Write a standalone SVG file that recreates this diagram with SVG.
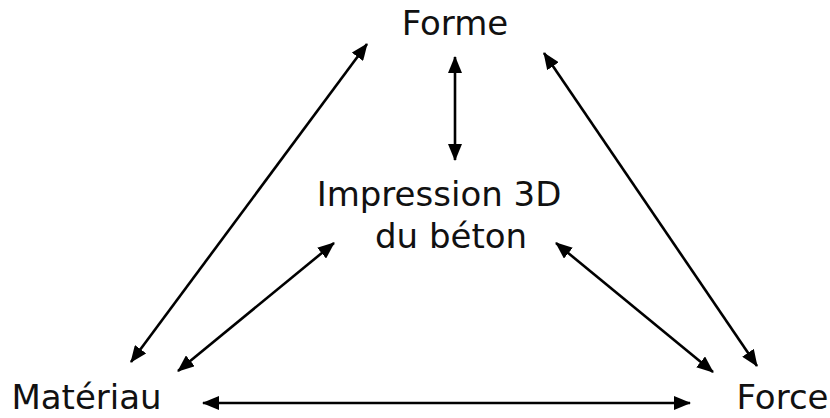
<svg xmlns="http://www.w3.org/2000/svg" width="830" height="418" viewBox="0 0 830 418">
<style>
.lbl{font-family:"DejaVu Sans","Liberation Sans",sans-serif;font-size:34px;fill:#111;text-anchor:middle}
.ln{stroke:#000;stroke-width:2.6;fill:none;marker-start:url(#ah);marker-end:url(#ah)}
</style>
<defs>
<marker id="ah" markerUnits="userSpaceOnUse" viewBox="0 0 17 14" refX="16" refY="7" markerWidth="17" markerHeight="14" orient="auto-start-reverse">
<path d="M0,0 L17,7 L0,14 z" fill="#000"/>
</marker>
</defs>
<rect width="830" height="418" fill="#fff"/>
<g id="connectors">
<line class="ln" x1="131" y1="362" x2="367" y2="44"/>
<line class="ln" x1="544" y1="53" x2="757" y2="366"/>
<line class="ln" x1="455" y1="57" x2="455" y2="160"/>
<line class="ln" x1="178" y1="371" x2="334" y2="243"/>
<line class="ln" x1="556" y1="243" x2="713" y2="372"/>
<line class="ln" x1="203" y1="403" x2="690" y2="403"/>
</g>
<g id="forme"><text class="lbl" x="455" y="35">Forme</text></g>
<g id="impression"><text class="lbl" x="439" y="206">Impression 3D</text><text class="lbl" x="451" y="248">du béton</text></g>
<g id="materiau"><text class="lbl" x="86.5" y="409">Matériau</text></g>
<g id="force"><text class="lbl" x="782.5" y="409">Force</text></g>
</svg>
